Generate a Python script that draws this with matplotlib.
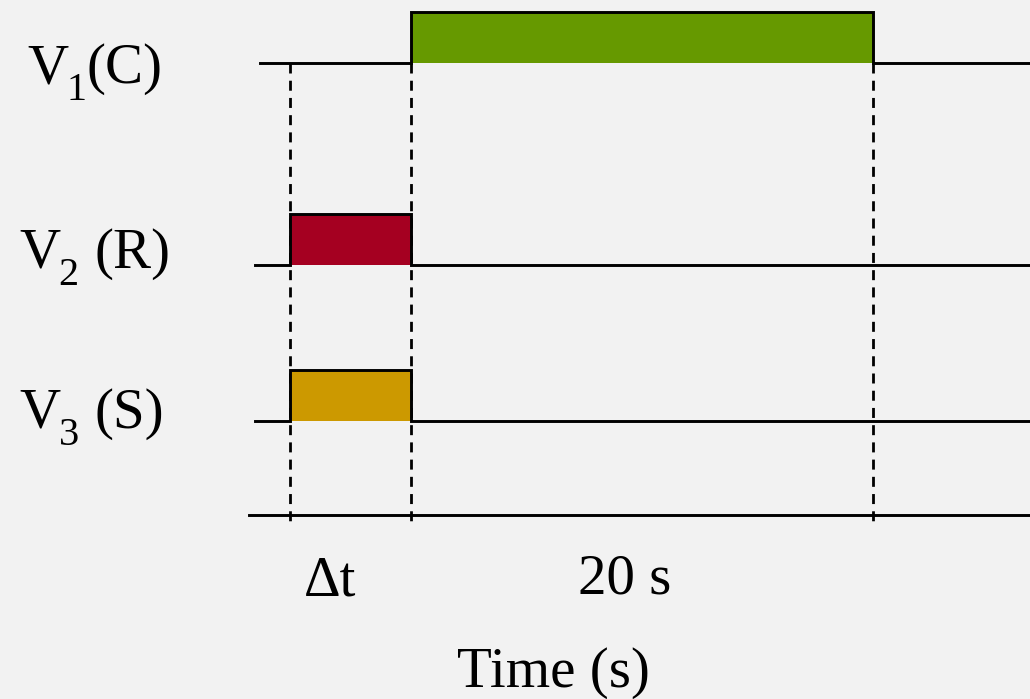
import matplotlib
matplotlib.use('Agg')
import matplotlib.pyplot as plt
import numpy as np

plt.rcParams['font.family'] = ['Liberation Serif', 'DejaVu Serif']

# data (time in s)
dt = 5.24
names = ['V', 'V', 'V']
subs = ['1', '2', '3']
tails = ['(C)', '(R)', '(S)']
t_on = [dt, 0.0, 0.0]
t_off = [dt + 20, dt, dt]
colors = ['#669900', '#a50021', '#cc9900']
marks = [0.0, dt, dt + 20]
mark_labels = ['\u0394t', '20 s']

bg = '#f2f2f2'
fig = plt.figure(figsize=(10.30, 6.99), dpi=100, facecolor=bg)
ax = fig.add_axes([0, 0, 1, 1])
ax.set_facecolor(bg)
ax.axis('off')

px = 20 / 462.0          # seconds per pixel
x0 = -290 * px
ax.set_xlim(x0, x0 + 1030 * px)
ax.set_ylim(699, 0)

base = [63, 265, 421]
high = 51
line_start = [-30 * px, -35 * px, -35 * px]
t_end = x0 + 1030 * px

# dashed time markers
for t in marks:
    ax.plot([t, t], [63, 525], color='black', lw=2.0, ls=(0, (3.6, 2.6)), zorder=1)

for i in range(len(names)):
    y0 = base[i]
    y1 = y0 - high
    ax.fill_between([t_on[i], t_off[i]], y0, y1, color=colors[i], lw=0, zorder=2)
    xs = [line_start[i], t_on[i], t_on[i], t_off[i], t_off[i], t_end]
    ys = [y0, y0, y1, y1, y0, y0]
    ax.plot(xs, ys, color='black', lw=2.1, zorder=3, solid_joinstyle='miter')

# channel labels: V, subscript, tail
label_y = [83, 268, 428]
v_x = [27, 19, 19]
sub_x = [66, 58, 59]
tail_x = [86, 94, 94]
for i in range(len(names)):
    ax.text(x0 + v_x[i] * px, label_y[i], names[i], fontsize=41,
            ha='left', va='baseline')
    ax.text(x0 + sub_x[i] * px, label_y[i] + 17, subs[i], fontsize=29,
            ha='left', va='baseline')
    ax.text(x0 + tail_x[i] * px, label_y[i], tails[i], fontsize=41,
            ha='left', va='baseline')

# time axis
ax.plot([-41 * px, t_end], [515, 515], color='black', lw=2.1, zorder=3)
ax.text(x0 + 330 * px, 595, mark_labels[0], fontsize=41,
        ha='center', va='baseline')
ax.text(x0 + 625 * px, 593, mark_labels[1], fontsize=41,
        ha='center', va='baseline')
ax.text(x0 + 553 * px, 687, 'Time (s)', fontsize=41, ha='center', va='baseline')

fig.savefig('out.png', dpi=100, facecolor=bg)
